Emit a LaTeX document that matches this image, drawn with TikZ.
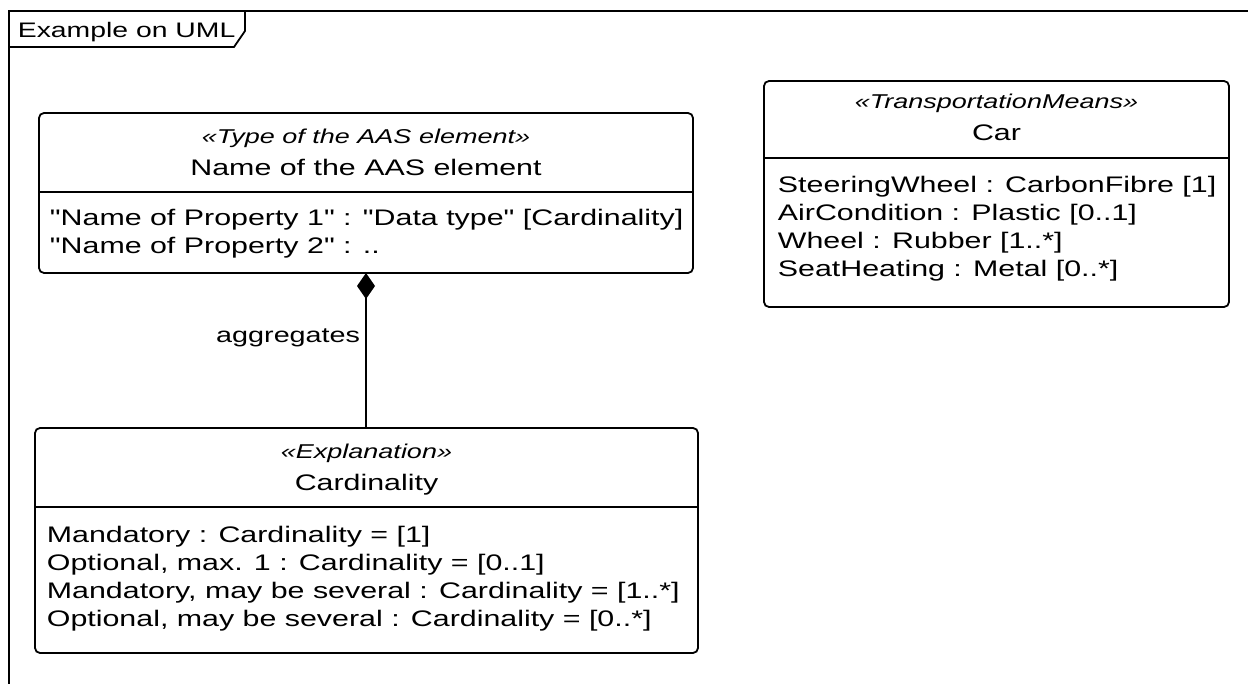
\documentclass[tikz,border=0pt]{standalone}
\usepackage{fontspec}
\setmainfont{Liberation Sans}[FakeStretch=1.35, Ligatures=TeXOff]
\usetikzlibrary{arrows.meta}
\newcommand\umlfs[1]{\fontsize{#1}{#1}\selectfont}
\begin{document}
\begin{tikzpicture}[x=1pt,y=-1pt,
  line width=1.8pt,
  umlbox/.style={draw, line width=1.8pt, rounded corners=5pt, inner sep=0pt, outer sep=0pt, anchor=north west},
  stereo/.style={anchor=base, inner sep=0pt, font=\umlfs{20}\itshape},
  cname/.style={anchor=base, inner sep=0pt, font=\umlfs{22.5}},
  attr/.style={anchor=base west, inner sep=0pt, font=\umlfs{22.5}},
  divider/.style={line width=1.5pt}
]
\useasboundingbox (0,0) rectangle (1248,684);
\fill[white] (0,0) rectangle (1248,684);

% frame
\draw (1248,11) -- (9,11) -- (9,684);
\draw (9,47) -- (234,47) -- (245,31) -- (245,11);
\node[anchor=base west, inner sep=0pt, font=\umlfs{21}] (title) at (17,38) {Example on UML};

% AAS element box
\node[umlbox, minimum width=654pt, minimum height=160pt] (aas) at (39,113) {};
\draw[divider] (39,192) -- (693,192);
\node[stereo] (aasst) at (366,144) {«Type of the AAS element»};
\node[cname] (aasnm) at (366,176) {Name of the AAS element};
\node[attr] (aasa1) at (49,226) {"Name of Property 1" : "Data type" [Cardinality]};
\node[attr] (aasa2) at (49,254) {"Name of Property 2" : ..};

% Car box
\node[umlbox, minimum width=465pt, minimum height=226pt] (car) at (764,81) {};
\draw[divider] (764,158) -- (1229,158);
\node[stereo] (carst) at (996.5,109) {«TransportationMeans»};
\node[cname] (carnm) at (996.5,141) {Car};
\node[attr] (cara1) at (777,193) {SteeringWheel : CarbonFibre [1]};
\node[attr] (cara2) at (777,221) {AirCondition : Plastic [0..1]};
\node[attr] (cara3) at (777,249) {Wheel : Rubber [1..*]};
\node[attr] (cara4) at (777,277) {SeatHeating : Metal [0..*]};

% Cardinality box
\node[umlbox, minimum width=663pt, minimum height=225pt] (card) at (35,428) {};
\draw[divider] (35,507) -- (698,507);
\node[stereo] (cardst) at (366.5,458) {«Explanation»};
\node[cname] (cardnm) at (366.5,490) {Cardinality};
\node[attr] (carda1) at (46,542) {Mandatory : Cardinality = [1]};
\node[attr] (carda2) at (46,570) {Optional, max. 1 : Cardinality = [0..1]};
\node[attr] (carda3) at (46,598) {Mandatory, may be several : Cardinality = [1..*]};
\node[attr] (carda4) at (46,626) {Optional, may be several : Cardinality = [0..*]};

% composition
\draw[-{Diamond[length=26pt,width=18pt]}] (card.north -| aas.south) --
  node[pos=0.58, anchor=east, inner sep=0pt, xshift=-5pt, font=\umlfs{21.3}] (agg) {aggregates} (aas.south);
\end{tikzpicture}
\end{document}
